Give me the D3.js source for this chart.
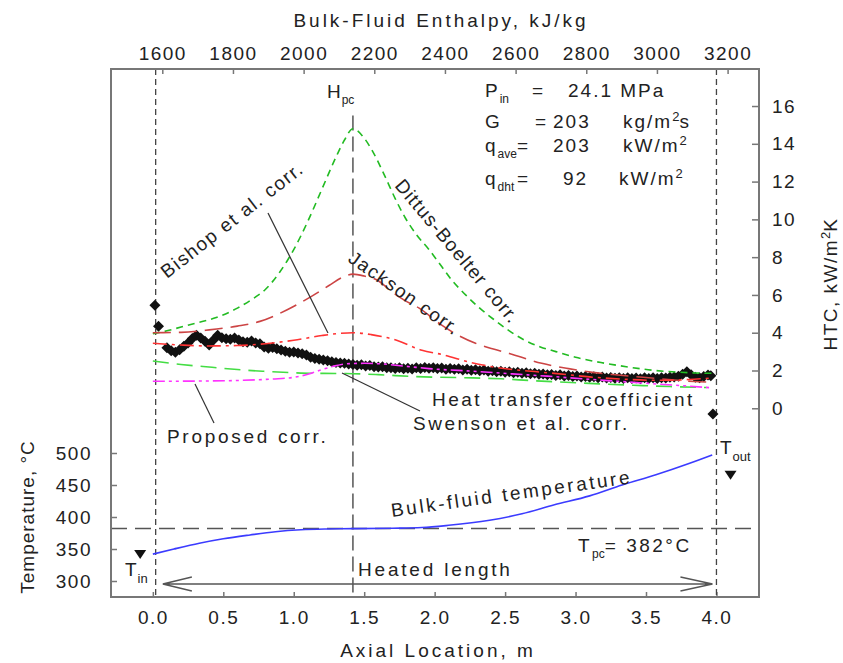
<!DOCTYPE html>
<html>
<head>
<meta charset="utf-8">
<script src="https://cdn.jsdelivr.net/npm/d3@7"></script>
<style>
  body { margin: 0; background: #fff; }
  text { font-family: "Liberation Sans", Arial, sans-serif; fill: #222; }
</style>
</head>
<body>
<svg id="chart" width="843" height="663"></svg>
<script>
// ---- data (axial location m, value) ----
var measuredHTC = [
  [0.015,5.45],[0.04,4.34],
  [0.10,3.20],[0.13,3.05],[0.16,2.96],[0.19,3.10],[0.22,3.28],[0.25,3.45],[0.28,3.70],[0.31,3.86],
  [0.34,3.72],[0.37,3.55],[0.40,3.35],[0.43,3.62],[0.46,3.86],[0.49,3.74],[0.52,3.68],[0.55,3.66],
  [0.58,3.72],[0.61,3.62],[0.64,3.52],[0.67,3.50],[0.70,3.56],[0.73,3.46],[0.76,3.42],[0.79,3.25],
  [0.82,3.18],[0.85,3.22],[0.88,3.15],[0.91,3.08],[0.94,3.02],[0.97,2.96],[1.00,2.98],[1.03,2.92],
  [1.06,2.88],[1.09,2.82],[1.12,2.70],[1.15,2.64],[1.18,2.60],[1.21,2.56],[1.24,2.52],[1.27,2.46],
  [1.30,2.42],[1.33,2.40],[1.36,2.38],[1.39,2.34],[1.42,2.32],[1.45,2.28],[1.48,2.30],[1.51,2.24],
  [1.54,2.26],[1.57,2.20],[1.60,2.18],[1.63,2.20],[1.66,2.14],[1.69,2.15],[1.72,2.10],[1.75,2.14],
  [1.78,2.09],[1.81,2.12],[1.84,2.08],[1.87,2.14],[1.90,2.11],[1.93,2.16],[1.96,2.12],[1.99,2.15],
  [2.02,2.10],[2.05,2.13],[2.08,2.07],[2.11,2.11],[2.14,2.06],[2.17,2.09],[2.20,2.03],[2.23,2.07],
  [2.26,2.01],[2.29,2.04],[2.32,1.99],[2.35,2.02],[2.38,1.96],[2.41,1.99],[2.44,1.94],[2.47,1.96],
  [2.50,1.91],[2.53,1.93],[2.56,1.88],[2.59,1.91],[2.62,1.85],[2.65,1.88],[2.68,1.83],[2.71,1.85],
  [2.74,1.80],[2.77,1.82],[2.80,1.77],[2.83,1.79],[2.86,1.74],[2.89,1.77],[2.92,1.71],[2.95,1.74],
  [2.98,1.68],[3.01,1.71],[3.04,1.66],[3.07,1.68],[3.10,1.64],[3.13,1.67],[3.16,1.62],[3.19,1.65],
  [3.22,1.60],[3.25,1.63],[3.28,1.59],[3.31,1.62],[3.34,1.57],[3.37,1.61],[3.40,1.57],[3.43,1.60],
  [3.46,1.56],[3.49,1.61],[3.52,1.57],[3.55,1.61],[3.58,1.58],[3.61,1.62],[3.64,1.60],[3.67,1.64],
  [3.70,1.66],[3.73,1.70],[3.76,1.80],[3.79,1.93],[3.82,1.78],[3.85,1.64],[3.88,1.62],[3.91,1.68],
  [3.94,1.76],[3.96,1.72],
  [3.975,-0.3]
];
var dittusBoelter = [
  [0.0,3.95],[0.1,4.1],[0.2,4.3],[0.3,4.5],[0.45,4.8],[0.6,5.3],[0.7,5.75],[0.8,6.3],[0.9,7.2],
  [1.0,8.4],[1.1,9.9],[1.2,11.6],[1.3,13.3],[1.36,14.2],[1.42,14.8],[1.5,14.3],[1.56,13.6],
  [1.64,12.4],[1.72,11.1],[1.79,10.1],[1.87,9.2],[1.96,8.4],[2.05,7.5],[2.12,6.8],[2.22,6.0],
  [2.32,5.3],[2.42,4.7],[2.53,4.1],[2.64,3.6],[2.75,3.25],[2.86,3.0],[3.0,2.7],[3.18,2.42],
  [3.36,2.2],[3.54,2.02],[3.71,1.92],[3.85,1.87],[3.97,1.85]
];
var jackson = [
  [0.0,4.0],[0.2,4.02],[0.4,4.15],[0.6,4.35],[0.76,4.6],[0.95,5.2],[1.12,5.9],[1.25,6.5],
  [1.35,6.95],[1.42,7.1],[1.5,7.0],[1.6,6.75],[1.69,6.2],[1.79,5.7],[1.89,5.3],[2.05,4.4],
  [2.17,3.85],[2.29,3.44],[2.41,3.15],[2.53,2.9],[2.76,2.38],[2.95,2.1],[3.12,1.9],[3.3,1.76],
  [3.48,1.64],[3.66,1.52],[3.84,1.42],[3.97,1.38]
];
var bishop = [
  [0.0,3.44],[0.2,3.35],[0.4,3.3],[0.6,3.32],[0.8,3.42],[1.0,3.6],[1.2,3.85],[1.32,3.96],
  [1.42,4.0],[1.55,3.9],[1.73,3.6],[1.91,3.07],[2.05,2.85],[2.26,2.42],[2.45,2.15],[2.62,2.0],
  [2.85,1.85],[3.1,1.66],[3.35,1.54],[3.57,1.48],[3.8,1.52],[3.96,1.6]
];
var swenson = [
  [0.0,2.5],[0.2,2.32],[0.42,2.17],[0.6,2.05],[0.78,1.96],[1.0,1.88],[1.14,1.85],[1.37,1.84],
  [1.6,1.78],[1.85,1.68],[2.2,1.62],[2.47,1.56],[2.7,1.46],[2.93,1.38],[3.17,1.29],[3.41,1.22],
  [3.67,1.15],[3.93,1.1]
];
var proposed = [
  [0.0,1.43],[0.3,1.44],[0.64,1.48],[0.85,1.55],[1.0,1.64],[1.1,1.8],[1.18,2.0],[1.28,2.22],
  [1.37,2.35],[1.5,2.38],[1.6,2.36],[1.8,2.22],[1.96,2.1],[2.3,1.95],[2.55,1.82],[2.8,1.7],
  [3.05,1.56],[3.3,1.43],[3.55,1.3],[3.75,1.2],[3.97,1.08]
];
var bulkTemp = [
  [0.0,342],[0.15,350],[0.33,359],[0.5,366],[0.69,372],[0.87,377],[1.05,380],[1.25,381.3],
  [1.42,381.8],[1.7,382.5],[1.91,383.5],[2.1,387],[2.39,395],[2.62,405],[2.85,419],[3.1,433],
  [3.33,450],[3.57,466],[3.81,484],[3.97,497]
];
var inletTemp = [-0.09, 342];
var outletTemp = [4.10, 466];
var Tpc = 382, hpcZ = 1.42, inletZ = 0.02, outletZ = 4.0;

var axialTicks = [0, 0.5, 1.0, 1.5, 2.0, 2.5, 3.0, 3.5, 4.0];
var enthalpyTicks = [1600, 1800, 2000, 2200, 2400, 2600, 2800, 3000, 3200];
var htcTicks = [0, 2, 4, 6, 8, 10, 12, 14, 16];
var tempTicks = [300, 350, 400, 450, 500];

// ---- layout ----
var svg = d3.select('#chart');
var L = 111, R = 759, T = 69, B = 597;
var font = '"Liberation Sans", Arial, sans-serif';
var frameColor = '#777';

var x = d3.scaleLinear().domain([-0.297, 4.302]).range([L, R]);
var xH = d3.scaleLinear().domain([1454.8, 3288.9]).range([L, R]);
var yH = d3.scaleLinear().domain([-9.99, 17.96]).range([B, T]);
var yT = d3.scaleLinear().domain([275, 1100]).range([B, T]);

function styleAxis(g, ls) {
  g.select('.domain').remove();
  g.attr('font-size', 19).attr('font-family', font);
  g.selectAll('.tick line').attr('stroke', frameColor).attr('stroke-width', 1.5);
  g.selectAll('.tick text').attr('fill', '#222').attr('letter-spacing', ls);
}

svg.append('g').attr('transform', 'translate(0,' + B + ')')
  .call(d3.axisBottom(x).tickValues(axialTicks).tickFormat(d3.format('.1f'))
    .tickSizeInner(-5).tickSizeOuter(0).tickPadding(14))
  .call(styleAxis, 1.5);
svg.append('g').attr('transform', 'translate(0,' + T + ')')
  .call(d3.axisTop(xH).tickValues(enthalpyTicks).tickFormat(d3.format('d'))
    .tickSizeInner(-5).tickSizeOuter(0).tickPadding(9))
  .call(styleAxis, 1.5);
svg.append('g').attr('transform', 'translate(' + L + ',0)')
  .call(d3.axisLeft(yT).tickValues(tempTicks).tickFormat(d3.format('d'))
    .tickSizeInner(-6).tickSizeOuter(0).tickPadding(19))
  .call(styleAxis, 1.5);
svg.append('g').attr('transform', 'translate(' + R + ',0)')
  .call(d3.axisRight(yH).tickValues(htcTicks).tickFormat(d3.format('d'))
    .tickSizeInner(-7).tickSizeOuter(0).tickPadding(13))
  .call(styleAxis, 1.5);

// reference lines
svg.append('line').attr('x1', x(inletZ)).attr('x2', x(inletZ)).attr('y1', T).attr('y2', B)
  .attr('stroke', '#444').attr('stroke-width', 1.3).attr('stroke-dasharray', '6,4');
svg.append('line').attr('x1', x(outletZ)).attr('x2', x(outletZ)).attr('y1', T).attr('y2', B)
  .attr('stroke', '#444').attr('stroke-width', 1.3).attr('stroke-dasharray', '6,4');
svg.append('line').attr('x1', x(hpcZ)).attr('x2', x(hpcZ)).attr('y1', yH(15.5)).attr('y2', B)
  .attr('stroke', '#555').attr('stroke-width', 1.5).attr('stroke-dasharray', '15,6');
svg.append('line').attr('x1', L).attr('x2', R - 7).attr('y1', yT(Tpc)).attr('y2', yT(Tpc))
  .attr('stroke', '#555').attr('stroke-width', 1.5).attr('stroke-dasharray', '16,8');

// measured HTC
svg.append('g').selectAll('path').data(measuredHTC).join('path')
  .attr('d', 'M0,-5.5L5.5,0L0,5.5L-5.5,0Z')
  .attr('transform', function(d) { return 'translate(' + x(d[0]) + ',' + yH(d[1]) + ')'; })
  .attr('fill', '#111');

// correlation curves
var htcLine = d3.line().x(function(d) { return x(d[0]); }).y(function(d) { return yH(d[1]); })
  .curve(d3.curveMonotoneX);
var curves = [
  { data: swenson, color: '#44dd44', dash: '16,8' },
  { data: proposed, color: '#ff33ff', dash: '12,4,3,4,3,4' },
  { data: dittusBoelter, color: '#22bb22', dash: '7,5' },
  { data: jackson, color: '#cc4444', dash: '18,8' },
  { data: bishop, color: '#ff3333', dash: '14,5,3,5' }
];
curves.forEach(function(c) {
  svg.append('path').datum(c.data).attr('d', htcLine)
    .attr('fill', 'none').attr('stroke', c.color).attr('stroke-width', 1.6)
    .attr('stroke-dasharray', c.dash);
});

// bulk-fluid temperature
var tLine = d3.line().x(function(d) { return x(d[0]); }).y(function(d) { return yT(d[1]); })
  .curve(d3.curveMonotoneX);
svg.append('path').datum(bulkTemp).attr('d', tLine)
  .attr('fill', 'none').attr('stroke', '#3b3bff').attr('stroke-width', 1.6);

svg.selectAll('.tmark').data([inletTemp, outletTemp]).join('path')
  .attr('class', 'tmark').attr('d', 'M-6,-4L6,-4L0,5Z')
  .attr('transform', function(d) { return 'translate(' + x(d[0]) + ',' + yT(d[1]) + ')'; })
  .attr('fill', '#111');

// heated length arrow
var ay = yT(295.3), ax1 = x(0) + 10, ax2 = x(outletZ) - 4;
svg.append('path')
  .attr('d', 'M' + ax1 + ',' + ay + 'L' + ax2 + ',' + ay +
    'M' + (ax1 + 29) + ',' + (ay - 7) + 'L' + ax1 + ',' + ay + 'L' + (ax1 + 29) + ',' + (ay + 7) +
    'M' + (ax2 - 32) + ',' + (ay - 7) + 'L' + ax2 + ',' + ay + 'L' + (ax2 - 32) + ',' + (ay + 7))
  .attr('fill', 'none').attr('stroke', '#555').attr('stroke-width', 1.4);

// leader lines
function leader(x1, y1, x2, y2) {
  svg.append('line').attr('x1', x1).attr('y1', y1).attr('x2', x2).attr('y2', y2)
    .attr('stroke', '#333').attr('stroke-width', 1.2);
}
leader(268, 213, 328, 333);
leader(195, 384, 214, 423);
leader(342, 373, 420, 411);

// frame
svg.append('rect').attr('x', L).attr('y', T).attr('width', R - L).attr('height', B - T)
  .attr('fill', 'none').attr('stroke', frameColor).attr('stroke-width', 2);

// ---- text ----
function label(px, py, str, ls, rot) {
  var t = svg.append('text').attr('font-size', 19).attr('letter-spacing', ls)
    .attr('transform', 'translate(' + px + ',' + py + ')' + (rot ? ' rotate(' + rot + ')' : ''));
  if (str) t.text(str);
  return t;
}
function span(t, str, opt) {
  var s = t.append('tspan').text(str);
  if (opt.x !== undefined) s.attr('x', opt.x);
  if (opt.dy) s.attr('dy', opt.dy);
  if (opt.size) s.attr('font-size', opt.size).attr('letter-spacing', 0);
  if (opt.ls !== undefined) s.attr('letter-spacing', opt.ls);
  return s;
}

label(441, 27, 'Bulk-Fluid Enthalpy, kJ/kg', 3).attr('text-anchor', 'middle');
label(438, 657, 'Axial Location, m', 3).attr('text-anchor', 'middle');
label(34, 517, 'Temperature, °C', 1, -90).attr('text-anchor', 'middle');
var ht = label(837, 284, null, 1.5, -90).attr('text-anchor', 'middle');
span(ht, 'HTC, kW/m', {}); span(ht, '2', { dy: -7, size: 13 }); span(ht, 'K', { dy: 7, ls: 1.5 });

var hp = label(x(hpcZ) - 26, 98, null, 1);
span(hp, 'H', {}); span(hp, 'pc', { dy: 6, size: 12 });

// parameters block
var r1 = label(0, 97, null, 2);
span(r1, 'P', { x: 485 }); span(r1, 'in', { dy: 6, size: 12 });
span(r1, '=', { x: 532, dy: -6 }); span(r1, '24.1 MPa', { x: 568 });
var r2 = label(0, 128, null, 2);
span(r2, 'G', { x: 485 }); span(r2, '=', { x: 535 }); span(r2, '203', { x: 553 });
span(r2, 'kg/m', { x: 623 }); span(r2, '2', { dy: -7, size: 13 }); span(r2, 's', { dy: 7, ls: 2 });
var r3 = label(0, 152, null, 2);
span(r3, 'q', { x: 485 }); span(r3, 'ave', { dy: 6, size: 12 });
span(r3, '=', { x: 517, dy: -6 }); span(r3, '203', { x: 553 }); span(r3, 'kW/m', { x: 623 });
span(r3, '2', { dy: -7, size: 13 });
var r4 = label(0, 185, null, 2);
span(r4, 'q', { x: 485 }); span(r4, 'dht', { dy: 6, size: 12 });
span(r4, '=', { x: 517, dy: -6 }); span(r4, '92', { x: 563 }); span(r4, 'kW/m', { x: 619 });
span(r4, '2', { dy: -7, size: 13 });

// curve labels
label(167, 279, 'Bishop et al. corr.', 1.5, -38);
label(394, 186, 'Dittus-Boelter corr.', 1.2, 50);
label(347, 261, 'Jackson corr.', 1.5, 35);
label(432, 406, 'Heat transfer coefficient', 2.5);
label(413, 430, 'Swenson et al. corr.', 2.5);
label(167, 443, 'Proposed corr.', 2.7);
label(392, 517, 'Bulk-fluid temperature', 2.6, -8);
label(358, 576, 'Heated length', 2.8);

var tp = label(578, 552, null, 2.5);
span(tp, 'T', {}); span(tp, 'pc', { dy: 6, size: 12 }); span(tp, '= 382°C', { dy: -6, ls: 2.5 });
var ti = label(125, 576, null, 1);
span(ti, 'T', {}); span(ti, 'in', { dy: 7, size: 13 });
var to = label(720, 454, null, 1);
span(to, 'T', {}); span(to, 'out', { dy: 7, size: 13 });
</script>
</body>
</html>
